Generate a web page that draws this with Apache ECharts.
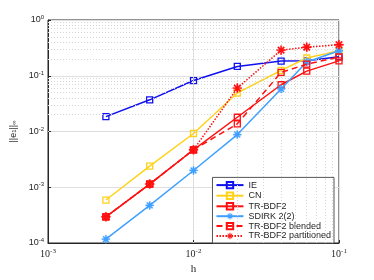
<!DOCTYPE html>
<html><head><meta charset="utf-8">
<script src="https://cdn.jsdelivr.net/npm/echarts@6/dist/echarts.min.js"></script>
<style>html,body{margin:0;padding:0;background:#fff}#c{width:374px;height:280px}</style>
</head><body><div id="c"></div>
<script>
var h = [0.0025, 0.005, 0.01, 0.02, 0.04, 0.06, 0.1];
var IE = [0.0185, 0.037, 0.082, 0.147, 0.183, 0.185, 0.22];
var CN = [0.00059, 0.0024, 0.0092, 0.049, 0.125, 0.208, 0.28];
var TRBDF2 = [0.000295, 0.00114, 0.0047, 0.018, 0.069, 0.121, 0.185];
var SDIRK = [0.000117, 0.000473, 0.0020, 0.0088, 0.058, 0.177, 0.28];
var BLENDED = [0.000295, 0.00114, 0.0047, 0.0137, 0.115, 0.161, 0.217];
var PARTITIONED = [0.000295, 0.00114, 0.0047, 0.060, 0.288, 0.325, 0.361];
var xMinor = [0.002,0.003,0.004,0.005,0.006,0.007,0.008,0.009,0.02,0.03,0.04,0.05,0.06,0.07,0.08,0.09];
var yMinor = [0.0002,0.0003,0.0004,0.0005,0.0006,0.0007,0.0008,0.0009,0.002,0.003,0.004,0.005,0.006,0.007,0.008,0.009,0.02,0.03,0.04,0.05,0.06,0.07,0.08,0.09,0.2,0.3,0.4,0.5,0.6,0.7,0.8,0.9];
var legendNames = ['IE','CN','TR-BDF2','SDIRK 2(2)','TR-BDF2 blended','TR-BDF2 partitioned'];

function pairs(ys){ return h.map(function(x,i){ return [x, ys[i]]; }); }
var ast = 'path://M4.2,0L5.8,0L5.8,10L4.2,10Z M0,4.2L10,4.2L10,5.8L0,5.8Z M2.07,0.93L9.07,7.93L7.93,9.07L0.93,2.07Z M0.93,7.93L7.93,0.93L9.07,2.07L2.07,9.07Z';
function expFmt(v){ var e = Math.round(Math.log10(v)); return '10{sup|' + e + '}'; }

var chart = echarts.init(document.getElementById('c'));
var minorLines = [];
xMinor.forEach(function(v){ minorLines.push({xAxis: v}); });
yMinor.forEach(function(v){ minorLines.push({yAxis: v}); });

function mk(name, data, color, symbol, size, lineType, z){
  var isAst = symbol.indexOf('path') === 0;
  return {
    name: name, type: 'line', data: pairs(data), z: z,
    symbol: symbol, symbolSize: size,
    lineStyle: {color: color, width: 1.5, type: lineType},
    itemStyle: {color: isAst ? color : 'none', borderColor: color, borderWidth: isAst ? 0.3 : 1.3},
    emphasis: {disabled: true}, animation: false
  };
}

chart.setOption({
  animation: false,
  backgroundColor: '#fff',
  grid: {left: 48, right: 35, top: 20, bottom: 32, show: true, borderColor: '#262626', borderWidth: 1},
  xAxis: {
    type: 'log', logBase: 10, min: 0.001, max: 0.1, splitNumber: 2,
    name: 'h', nameLocation: 'middle', nameGap: 21,
    nameTextStyle: {fontFamily: 'Liberation Serif', fontSize: 11, color: '#262626'},
    axisLine: {show: true, lineStyle: {color: '#262626'}},
    axisTick: {show: true, inside: true, length: 3, lineStyle: {color: '#262626'}},
    axisLabel: {formatter: expFmt, fontFamily: 'Liberation Serif', fontSize: 10, color: '#262626', margin: 5,
      rich: {sup: {fontSize: 7, verticalAlign: 'top', padding: [0,0,5,0], fontFamily: 'Liberation Serif', color: '#262626'}}},
    splitLine: {show: true, lineStyle: {color: '#e0e0e0', width: 1}}
  },
  yAxis: {
    type: 'log', logBase: 10, min: 0.0001, max: 1, splitNumber: 4,
    name: '||e{sub|1}||{sub|∞}', nameLocation: 'middle', nameGap: 20, nameRotate: 90,
    nameTextStyle: {fontFamily: 'Liberation Sans', fontSize: 9, color: '#262626',
      rich: {sub: {fontSize: 6, verticalAlign: 'bottom', color: '#262626'}}},
    axisLine: {show: true, lineStyle: {color: '#262626'}},
    axisTick: {show: true, inside: true, length: 3, lineStyle: {color: '#262626'}},
    axisLabel: {formatter: expFmt, fontFamily: 'Liberation Sans', fontSize: 9, color: '#262626', margin: 4,
      rich: {sup: {fontSize: 6, verticalAlign: 'top', padding: [0,0,5,0], color: '#262626'}}},
    splitLine: {show: true, lineStyle: {color: '#e0e0e0', width: 1}}
  },
  legend: {
    orient: 'vertical', right: 40, bottom: 37,
    backgroundColor: '#fff', borderColor: '#555', borderWidth: 1, borderRadius: 0,
    padding: [2, 3, 2, 3], itemWidth: 27, itemHeight: 8, itemGap: -0.8,
    textStyle: {fontFamily: 'Liberation Sans', fontSize: 9, color: '#262626', lineHeight: 10},
    data: legendNames.map(function(n){
      var isAst = (n === 'SDIRK 2(2)' || n === 'TR-BDF2 partitioned');
      return isAst ? {name: n, itemStyle: {borderWidth: 0}} : {name: n};
    })
  },
  series: [
    {type: 'line', data: [], silent: true, markLine: {silent: true, symbol: 'none', animation: false,
      label: {show: false}, lineStyle: {color: '#d6d6d6', type: [1,2], width: 1}, data: minorLines}},
    mk('IE', IE, '#1010ee', 'rect', 6, 'solid', 3),
    mk('CN', CN, '#ffd21a', 'rect', 6, 'solid', 4),
    mk('TR-BDF2', TRBDF2, '#ff1010', 'rect', 6, 'solid', 5),
    mk('SDIRK 2(2)', SDIRK, '#40a0ff', ast, 8, 'solid', 6),
    mk('TR-BDF2 blended', BLENDED, '#ff1010', 'rect', 6, [6,4], 7),
    mk('TR-BDF2 partitioned', PARTITIONED, '#ff1010', ast, 9, [1.5,1.5], 8)
  ]
});
</script></body></html>
